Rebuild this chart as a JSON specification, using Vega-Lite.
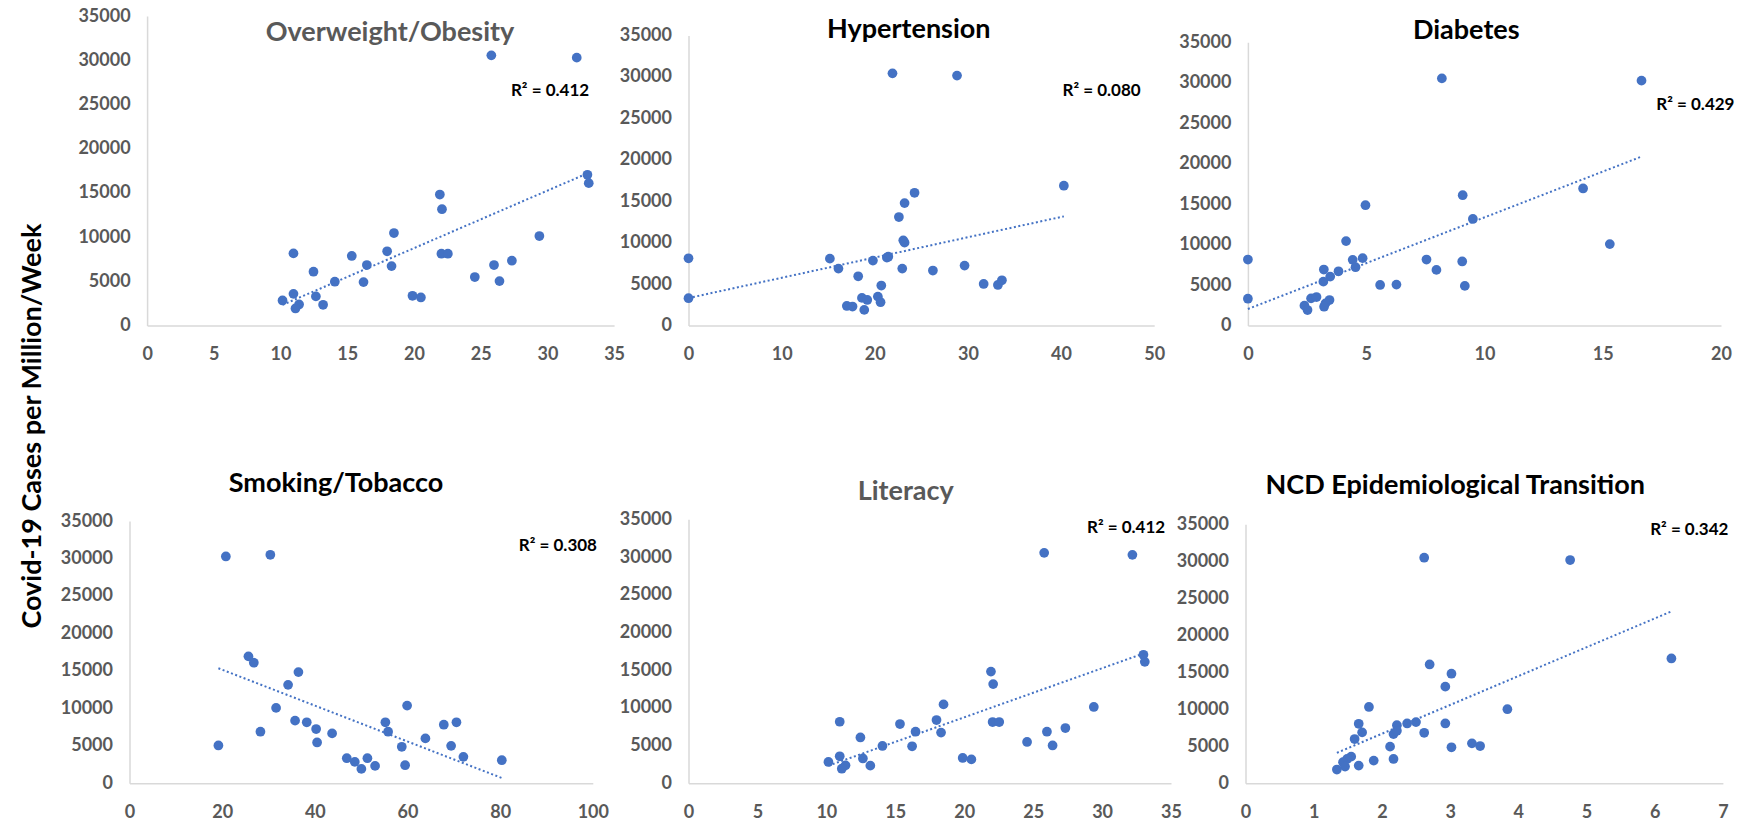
{
  "$schema": "https://vega.github.io/schema/vega-lite/v6.json",
  "padding": {"left": 18.5, "top": 7, "right": 5, "bottom": 5},
  "background": "white",
  "title": {"text": "Covid-19 Cases per Million/Week", "orient": "left", "anchor": "middle", "frame": "bounds", "offset": 12.8, "dx": -12, "fontSize": 27, "font": "Lato", "fontWeight": "bold", "color": "#000000"},
  "datasets": {
    "obesity": [{"x":25.8,"y":30550},{"x":32.2,"y":30290},{"x":33.0,"y":17040},{"x":33.1,"y":16100},{"x":21.94,"y":14810},{"x":22.1,"y":13150},{"x":18.5,"y":10460},{"x":29.4,"y":10120},{"x":10.97,"y":8160},{"x":22.06,"y":8120},{"x":22.54,"y":8120},{"x":17.99,"y":8390},{"x":15.34,"y":7860},{"x":27.34,"y":7330},{"x":16.47,"y":6840},{"x":18.32,"y":6720},{"x":26.0,"y":6840},{"x":12.47,"y":6080},{"x":24.56,"y":5480},{"x":14.07,"y":4950},{"x":16.22,"y":4910},{"x":26.41,"y":5020},{"x":10.15,"y":2830},{"x":10.97,"y":3580},{"x":12.65,"y":3290},{"x":19.89,"y":3360},{"x":20.52,"y":3170},{"x":11.39,"y":2380},{"x":13.19,"y":2340},{"x":11.12,"y":1930}],
    "hypertension": [{"x":0,"y":8110},{"x":0,"y":3290},{"x":24.27,"y":16020},{"x":23.2,"y":14770},{"x":22.59,"y":13090},{"x":23.06,"y":10280},{"x":23.2,"y":10000},{"x":40.3,"y":16870},{"x":15.18,"y":8070},{"x":16.1,"y":6870},{"x":19.8,"y":7830},{"x":21.3,"y":8190},{"x":21.45,"y":8300},{"x":18.22,"y":5940},{"x":22.95,"y":6870},{"x":26.24,"y":6630},{"x":29.64,"y":7230},{"x":20.7,"y":4820},{"x":31.69,"y":5010},{"x":33.22,"y":4890},{"x":33.65,"y":5460},{"x":18.62,"y":3330},{"x":19.19,"y":3080},{"x":20.33,"y":3490},{"x":20.62,"y":2810},{"x":17.0,"y":2360},{"x":17.61,"y":2290},{"x":18.87,"y":1880},{"x":21.9,"y":30430},{"x":28.83,"y":30160}],
    "diabetes": [{"x":0,"y":8150},{"x":0,"y":3310},{"x":14.17,"y":16930},{"x":15.3,"y":10060},{"x":9.08,"y":16100},{"x":9.51,"y":13160},{"x":4.97,"y":14860},{"x":4.15,"y":10430},{"x":4.43,"y":8110},{"x":4.85,"y":8320},{"x":4.55,"y":7200},{"x":7.55,"y":8150},{"x":9.06,"y":7910},{"x":7.97,"y":6870},{"x":3.21,"y":6910},{"x":3.83,"y":6700},{"x":3.48,"y":6040},{"x":3.19,"y":5420},{"x":5.59,"y":5010},{"x":6.28,"y":5050},{"x":9.17,"y":4890},{"x":2.67,"y":3350},{"x":2.9,"y":3520},{"x":3.45,"y":3150},{"x":3.28,"y":2730},{"x":2.39,"y":2450},{"x":2.52,"y":1910},{"x":3.22,"y":2320},{"x":8.2,"y":30530},{"x":16.64,"y":30250}],
    "smoking": [{"x":19.19,"y":5050},{"x":25.67,"y":16940},{"x":26.83,"y":16090},{"x":36.46,"y":14840},{"x":34.23,"y":13140},{"x":31.64,"y":10060},{"x":28.26,"y":6880},{"x":35.74,"y":8360},{"x":38.26,"y":8140},{"x":40.28,"y":7240},{"x":40.49,"y":5450},{"x":43.73,"y":6660},{"x":46.9,"y":3350},{"x":48.63,"y":2860},{"x":50.05,"y":1920},{"x":51.35,"y":3350},{"x":53.01,"y":2320},{"x":55.23,"y":8140},{"x":55.82,"y":6880},{"x":59.92,"y":10370},{"x":58.77,"y":4870},{"x":59.49,"y":2410},{"x":63.87,"y":5990},{"x":67.84,"y":7820},{"x":70.57,"y":8140},{"x":69.42,"y":5000},{"x":72.07,"y":3530},{"x":80.36,"y":3080},{"x":20.8,"y":30270},{"x":30.4,"y":30490}],
    "literacy": [{"x":25.8,"y":30550},{"x":32.2,"y":30290},{"x":33.0,"y":17040},{"x":33.1,"y":16100},{"x":21.94,"y":14810},{"x":22.1,"y":13150},{"x":18.5,"y":10460},{"x":29.4,"y":10120},{"x":10.97,"y":8160},{"x":22.06,"y":8120},{"x":22.54,"y":8120},{"x":17.99,"y":8390},{"x":15.34,"y":7860},{"x":27.34,"y":7330},{"x":16.47,"y":6840},{"x":18.32,"y":6720},{"x":26.0,"y":6840},{"x":12.47,"y":6080},{"x":24.56,"y":5480},{"x":14.07,"y":4950},{"x":16.22,"y":4910},{"x":26.41,"y":5020},{"x":10.15,"y":2830},{"x":10.97,"y":3580},{"x":12.65,"y":3290},{"x":19.89,"y":3360},{"x":20.52,"y":3170},{"x":11.39,"y":2380},{"x":13.19,"y":2340},{"x":11.12,"y":1930}],
    "ncd": [{"x":6.245,"y":16870},{"x":2.70,"y":16060},{"x":3.02,"y":14810},{"x":2.93,"y":13060},{"x":1.81,"y":10320},{"x":3.84,"y":10010},{"x":1.66,"y":8040},{"x":1.71,"y":6880},{"x":1.60,"y":5980},{"x":2.22,"y":7860},{"x":2.17,"y":6650},{"x":2.22,"y":7100},{"x":2.37,"y":8090},{"x":2.50,"y":8270},{"x":2.62,"y":6830},{"x":2.93,"y":8090},{"x":2.12,"y":4950},{"x":3.02,"y":4870},{"x":3.32,"y":5400},{"x":3.44,"y":5040},{"x":2.17,"y":3290},{"x":1.88,"y":3070},{"x":1.66,"y":2390},{"x":1.55,"y":3600},{"x":1.49,"y":3290},{"x":1.43,"y":2850},{"x":1.46,"y":2260},{"x":1.34,"y":1860},{"x":2.62,"y":30480},{"x":4.76,"y":30170}]
  },
  "columns": 3,
  "spacing": {"row": 193.3, "column": 74},
  "bounds": "flush",
  "align": "each",
  "concat": [
    {
      "width": 485, "height": 309.5,
      "title": {"text": "Overweight/Obesity", "color": "#595959", "anchor": "middle", "frame": "group", "baseline": "middle", "offset": -52.8, "dx": 18},
      "layer": [
        {"data": {"name": "obesity"}, "mark": {"type": "point", "filled": true, "size": 95, "color": "#4472C4", "opacity": 1},
         "encoding": {
           "x": {"field": "x", "type": "quantitative", "scale": {"domain": [0, 35], "range": [17.6, 484.6], "nice": false, "zero": false}, "axis": {"values": [0,5,10,15,20,25,30,35], "tickCount": 8, "title": null, "labelOverlap": false}},
           "y": {"field": "y", "type": "quantitative", "scale": {"domain": [0, 35000], "range": [309.5, 0], "nice": false}, "axis": {"values": [0,5000,10000,15000,20000,25000,30000,35000], "tickCount": 8, "format": "d", "title": null, "offset": -17.6, "labelOverlap": false}}}},
        {"data": {"name": "obesity"}, "transform": [{"regression": "y", "on": "x"}], "mark": {"type": "line", "color": "#4472C4", "strokeWidth": 2, "strokeDash": [2, 2.5]},
         "encoding": {"x": {"field": "x", "type": "quantitative"}, "y": {"field": "y", "type": "quantitative"}}},
        {"data": {"values": [{"label": "R² = 0.412"}]}, "mark": {"type": "text", "align": "right", "baseline": "middle", "font": "Lato", "fontSize": 17, "fontWeight": "bold", "color": "#000000"},
         "encoding": {"x": {"datum": 33.13, "type": "quantitative"}, "y": {"datum": 26480, "type": "quantitative"}, "text": {"field": "label"}}}
      ]
    },
    {
      "width": 482.5, "height": 309.5,
      "title": {"text": "Hypertension", "color": "#000000", "anchor": "middle", "frame": "group", "baseline": "middle", "offset": -40.5, "dx": -21},
      "layer": [
        {"data": {"name": "hypertension"}, "mark": {"type": "point", "filled": true, "size": 95, "color": "#4472C4", "opacity": 1},
         "encoding": {
           "x": {"field": "x", "type": "quantitative", "scale": {"domain": [0, 50], "range": [0, 465.7], "nice": false, "zero": false}, "axis": {"values": [0,10,20,30,40,50], "tickCount": 8, "title": null, "labelOverlap": false}},
           "y": {"field": "y", "type": "quantitative", "scale": {"domain": [0, 35000], "range": [309.5, 19.5], "nice": false}, "axis": {"values": [0,5000,10000,15000,20000,25000,30000,35000], "tickCount": 8, "format": "d", "title": null, "labelOverlap": false}}}},
        {"data": {"name": "hypertension"}, "transform": [{"regression": "y", "on": "x"}], "mark": {"type": "line", "color": "#4472C4", "strokeWidth": 2, "strokeDash": [2, 2.5]},
         "encoding": {"x": {"field": "x", "type": "quantitative"}, "y": {"field": "y", "type": "quantitative"}}},
        {"data": {"values": [{"label": "R² = 0.080"}]}, "mark": {"type": "text", "align": "right", "baseline": "middle", "font": "Lato", "fontSize": 17, "fontWeight": "bold", "color": "#000000"},
         "encoding": {"x": {"datum": 48.55, "type": "quantitative"}, "y": {"datum": 28350, "type": "quantitative"}, "text": {"field": "label"}}}
      ]
    },
    {
      "width": 477.5, "height": 309.5,
      "title": {"text": "Diabetes", "color": "#000000", "anchor": "middle", "frame": "group", "baseline": "middle", "offset": -41.7, "dx": -18},
      "layer": [
        {"data": {"name": "diabetes"}, "mark": {"type": "point", "filled": true, "size": 95, "color": "#4472C4", "opacity": 1},
         "encoding": {
           "x": {"field": "x", "type": "quantitative", "scale": {"domain": [0, 20], "range": [2.4, 475.5], "nice": false, "zero": false}, "axis": {"values": [0,5,10,15,20], "tickCount": 8, "title": null, "labelOverlap": false}},
           "y": {"field": "y", "type": "quantitative", "scale": {"domain": [0, 35000], "range": [309.5, 26.2], "nice": false}, "axis": {"values": [0,5000,10000,15000,20000,25000,30000,35000], "tickCount": 8, "format": "d", "title": null, "offset": -2.4, "labelOverlap": false}}}},
        {"data": {"name": "diabetes"}, "transform": [{"regression": "y", "on": "x"}], "mark": {"type": "line", "color": "#4472C4", "strokeWidth": 2, "strokeDash": [2, 2.5]},
         "encoding": {"x": {"field": "x", "type": "quantitative"}, "y": {"field": "y", "type": "quantitative"}}},
        {"data": {"values": [{"label": "R² = 0.429"}]}, "mark": {"type": "text", "align": "right", "baseline": "middle", "font": "Lato", "fontSize": 17, "fontWeight": "bold", "color": "#000000"},
         "encoding": {"x": {"datum": 20.57, "type": "quantitative"}, "y": {"datum": 27270, "type": "quantitative"}, "text": {"field": "label"}}}
      ]
    },
    {
      "width": 485, "height": 264,
      "title": {"text": "Smoking/Tobacco", "color": "#000000", "anchor": "middle", "frame": "group", "baseline": "middle", "offset": 1, "dx": -36},
      "layer": [
        {"data": {"name": "smoking"}, "mark": {"type": "point", "filled": true, "size": 95, "color": "#4472C4", "opacity": 1},
         "encoding": {
           "x": {"field": "x", "type": "quantitative", "scale": {"domain": [0, 100], "range": [0, 463.3], "nice": false, "zero": false}, "axis": {"values": [0,20,40,60,80,100], "tickCount": 8, "title": null, "labelOverlap": false}},
           "y": {"field": "y", "type": "quantitative", "scale": {"domain": [0, 35000], "range": [264, 1.7], "nice": false}, "axis": {"values": [0,5000,10000,15000,20000,25000,30000,35000], "tickCount": 8, "format": "d", "title": null, "labelOverlap": false}}}},
        {"data": {"name": "smoking"}, "transform": [{"regression": "y", "on": "x"}], "mark": {"type": "line", "color": "#4472C4", "strokeWidth": 2, "strokeDash": [2, 2.5]},
         "encoding": {"x": {"field": "x", "type": "quantitative"}, "y": {"field": "y", "type": "quantitative"}}},
        {"data": {"values": [{"label": "R² = 0.308"}]}, "mark": {"type": "text", "align": "right", "baseline": "middle", "font": "Lato", "fontSize": 17, "fontWeight": "bold", "color": "#000000"},
         "encoding": {"x": {"datum": 100.9, "type": "quantitative"}, "y": {"datum": 31650, "type": "quantitative"}, "text": {"field": "label"}}}
      ]
    },
    {
      "width": 482.5, "height": 264,
      "title": {"text": "Literacy", "color": "#595959", "anchor": "middle", "frame": "group", "baseline": "middle", "offset": -9.1, "dx": -24},
      "layer": [
        {"data": {"name": "literacy"}, "mark": {"type": "point", "filled": true, "size": 95, "color": "#4472C4", "opacity": 1},
         "encoding": {
           "x": {"field": "x", "type": "quantitative", "scale": {"domain": [0, 35], "range": [0, 482.5], "nice": false, "zero": false}, "axis": {"values": [0,5,10,15,20,25,30,35], "tickCount": 8, "title": null, "labelOverlap": false}},
           "y": {"field": "y", "type": "quantitative", "scale": {"domain": [0, 35000], "range": [264, 0], "nice": false}, "axis": {"values": [0,5000,10000,15000,20000,25000,30000,35000], "tickCount": 8, "format": "d", "title": null, "labelOverlap": false}}}},
        {"data": {"name": "literacy"}, "transform": [{"regression": "y", "on": "x"}], "mark": {"type": "line", "color": "#4472C4", "strokeWidth": 2, "strokeDash": [2, 2.5]},
         "encoding": {"x": {"field": "x", "type": "quantitative"}, "y": {"field": "y", "type": "quantitative"}}},
        {"data": {"values": [{"label": "R² = 0.412"}]}, "mark": {"type": "text", "align": "right", "baseline": "middle", "font": "Lato", "fontSize": 17, "fontWeight": "bold", "color": "#000000"},
         "encoding": {"x": {"datum": 34.58, "type": "quantitative"}, "y": {"datum": 33870, "type": "quantitative"}, "text": {"field": "label"}}}
      ]
    },
    {
      "width": 477.5, "height": 264,
      "title": {"text": "NCD Epidemiological Transition", "color": "#000000", "anchor": "middle", "frame": "group", "baseline": "middle", "offset": 2.4, "dx": -29},
      "layer": [
        {"data": {"name": "ncd"}, "mark": {"type": "point", "filled": true, "size": 95, "color": "#4472C4", "opacity": 1},
         "encoding": {
           "x": {"field": "x", "type": "quantitative", "scale": {"domain": [0, 7], "range": [0, 477.4], "nice": false, "zero": false}, "axis": {"values": [0,1,2,3,4,5,6,7], "tickCount": 8, "format": "d", "title": null, "labelOverlap": false}},
           "y": {"field": "y", "type": "quantitative", "scale": {"domain": [0, 35000], "range": [264, 5], "nice": false}, "axis": {"values": [0,5000,10000,15000,20000,25000,30000,35000], "tickCount": 8, "format": "d", "title": null, "labelOverlap": false}}}},
        {"data": {"name": "ncd"}, "transform": [{"regression": "y", "on": "x"}], "mark": {"type": "line", "color": "#4472C4", "strokeWidth": 2, "strokeDash": [2, 2.5]},
         "encoding": {"x": {"field": "x", "type": "quantitative"}, "y": {"field": "y", "type": "quantitative"}}},
        {"data": {"values": [{"label": "R² = 0.342"}]}, "mark": {"type": "text", "align": "right", "baseline": "middle", "font": "Lato", "fontSize": 17, "fontWeight": "bold", "color": "#000000"},
         "encoding": {"x": {"datum": 7.08, "type": "quantitative"}, "y": {"datum": 34200, "type": "quantitative"}, "text": {"field": "label"}}}
      ]
    }
  ],
  "config": {
    "view": {"stroke": null},
    "axis": {"domainColor": "#D9D9D9", "domainWidth": 1.5, "grid": false, "ticks": false, "tickSize": 0, "labelFont": "Lato", "labelFontSize": 18, "labelFontWeight": "bold", "labelColor": "#595959", "labelOverlap": false, "labelFlush": false, "labelBound": false},
    "axisX": {"labelPadding": 20},
    "axisY": {"labelPadding": 17},
    "title": {"font": "Lato", "fontSize": 27, "fontWeight": "bold"}
  }
}
